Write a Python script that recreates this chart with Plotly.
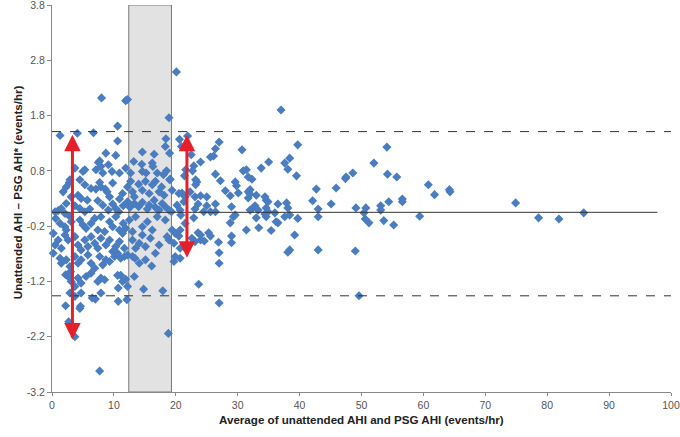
import plotly.graph_objects as go

# ---- data ----
# (average AHI, difference) pairs, grouped by x region
pts_low = [
    (8.0,2.12),(11.9,2.07),(12.2,2.09),(10.6,1.61),(1.3,1.44),(4.1,1.48),(6.7,1.49),(10.6,1.34),
    (8.7,1.12),(10.3,1.08),
    (3.7,0.85),(7.5,0.95),(7.7,0.98),(7.9,0.88),(7.1,0.82),(9.1,0.91),(11.9,0.85),(2.9,0.64),(4.5,0.64),
    (5.0,0.79),(5.3,0.82),(8.2,0.76),(9.7,0.79),(10.9,0.76),
    (1.8,0.42),(2.3,0.51),(2.8,0.59),(3.1,0.33),(4.2,0.36),(4.7,0.30),(5.3,0.55),(5.7,0.27),(6.3,0.48),
    (7.1,0.47),(7.7,0.59),(7.9,0.51),(8.6,0.47),(8.9,0.42),(9.3,0.33),(9.8,0.58),(10.9,0.29),(11.4,0.39),(12.2,0.51),
    (0.5,0.06),(1.0,0.08),(1.5,0.12),(2.3,0.21),(2.1,0.03),(3.7,0.17),(4.5,0.12),(5.3,0.06),(6.1,0.11),
    (7.4,0.26),(8.2,0.18),(9.1,0.09),(9.8,0.20),(10.3,0.12),(10.8,0.06),(11.5,0.17),(12.2,0.24),
    (0.2,-0.33),(0.6,-0.06),(1.3,-0.15),(2.1,-0.21),(2.3,-0.27),(2.9,-0.03),(3.1,-0.12),(4.5,-0.09),
    (5.0,-0.18),(5.5,-0.24),(6.3,-0.15),(6.9,-0.06),(7.4,-0.27),(7.9,-0.03),(8.5,-0.30),(9.3,-0.12),
    (9.8,-0.21),(10.3,-0.03),(10.9,-0.27),(11.5,-0.15),(11.9,-0.24),
    (0.2,-0.69),(0.5,-0.54),(1.0,-0.45),(1.5,-0.60),(2.1,-0.36),(2.6,-0.45),(3.7,-0.39),(4.2,-0.54),
    (4.7,-0.63),(5.3,-0.45),(5.8,-0.57),(6.3,-0.39),(6.9,-0.51),(7.4,-0.60),(7.9,-0.42),(8.7,-0.54),
    (9.3,-0.45),(9.8,-0.66),(10.3,-0.57),(10.9,-0.48),(11.4,-0.33),(11.7,-0.60),
    (1.3,-0.78),(1.5,-0.87),(2.3,-0.81),(2.9,-0.93),(3.0,-1.02),(3.7,-0.75),(4.2,-0.87),(4.7,-0.81),
    (5.8,-0.72),(6.3,-0.87),(6.9,-0.96),(7.7,-0.75),(8.2,-0.90),(8.7,-0.81),(9.3,-0.84),(10.1,-0.75),
    (10.6,-0.69),(11.1,-0.78),(11.7,-0.75),(12.2,-0.72),
    (2.2,-1.08),(2.6,-1.11),(3.1,-1.20),(3.7,-1.29),(4.2,-1.14),(4.7,-1.23),(5.5,-1.11),(6.3,-1.05),
    (7.4,-1.20),(7.9,-1.14),(8.5,-1.17),(10.6,-1.09),(11.1,-1.09),(11.4,-1.20),(11.9,-1.16),(10.7,-1.32),(12.2,-1.29),
    (2.9,-1.41),(3.7,-1.47),(4.7,-1.41),(6.5,-1.50),(7.0,-1.52),(7.9,-1.41),(10.7,-1.56),(12.1,-1.53),
    (2.2,-1.64),(4.5,-1.69),(4.6,-1.65),(2.7,-1.93),(3.7,-2.20),(7.7,-2.82),
]
pts_band = [
    (18.9,1.76),(18.4,1.38),(14.6,1.14),(16.5,1.10),(18.3,1.24),(19.0,1.12),
    (13.2,0.97),(14.5,0.92),(15.2,0.76),(16.2,0.94),(16.3,0.88),(17.0,0.76),(18.0,0.73),(19.1,0.65),
    (18.5,0.80),(12.7,0.76),(14.6,0.79),
    (12.7,0.61),(13.0,0.42),(13.3,0.33),(14.0,0.56),(14.6,0.45),(15.1,0.61),(15.7,0.39),(16.2,0.55),
    (16.7,0.61),(17.3,0.42),(17.7,0.51),(18.1,0.36),(19.0,0.64),
    (12.6,0.14),(13.3,0.21),(14.0,0.15),(14.6,0.23),(15.4,0.11),(15.7,0.18),(16.5,0.27),(16.7,0.14),
    (17.3,0.09),(17.8,0.21),(18.3,0.15),(18.9,0.09),(19.3,0.06),
    (12.5,-0.09),(13.0,-0.30),(13.5,-0.03),(14.6,-0.21),(15.4,-0.12),(16.2,-0.27),(17.0,-0.03),
    (18.3,-0.09),(19.4,-0.27),
    (13.0,-0.45),(13.5,-0.60),(14.1,-0.51),(14.6,-0.36),(15.1,-0.57),(15.9,-0.42),(17.3,-0.54),
    (18.6,-0.39),(18.9,-0.45),
    (13.0,-0.75),(13.4,-0.78),(14.1,-0.87),(15.1,-0.81),(16.1,-0.92),(16.7,-0.69),
    (13.3,-1.11),(14.8,-1.34),(17.9,-1.37),(18.8,-2.14),
]
pts_mid = [
    (20.1,2.59),(19.7,-0.51),(19.9,-0.33),(19.7,-0.84),(19.9,-0.75),(19.4,0.45),(20.5,0.39),(20.2,0.18),
    (21.9,1.43),(20.6,1.37),(20.9,1.24),(22.5,1.09),(21.4,0.71),(22.9,0.89),(21.0,0.40),(21.5,0.33),
    (22.3,0.42),(23.1,0.33),(20.7,0.09),(21.3,0.24),(23.1,0.11),(23.6,0.20),(20.7,-0.27),(21.5,-0.15),
    (23.6,-0.32),(20.7,-0.60),(21.3,-0.57),(22.6,-0.42),(23.1,-0.48),(20.7,-0.78),(23.7,-1.25),
    (37.0,1.90),(27.0,1.32),(26.4,1.20),(30.7,1.18),(39.7,1.27),(26.1,1.07),(25.6,1.05),(24.0,0.96),
    (22.7,0.80),(35.0,0.96),(37.6,0.94),(38.4,1.03),(33.8,0.85),(30.9,0.80),(31.4,0.82),(38.1,0.83),
    (21.6,0.82),(26.4,0.74),(31.7,0.69),(32.3,0.65),(39.5,0.71),(23.2,0.64),(23.4,0.60),(23.2,0.55),
    (27.2,0.62),(29.6,0.60),(29.8,0.53),(32.0,0.46),(31.7,0.42),(32.0,0.38),(28.0,0.44),(30.1,0.40),
    (24.0,0.35),(25.0,0.33),(28.8,0.35),(34.4,0.33),(34.6,0.27),(34.9,0.24),(33.0,0.36),(31.7,0.31),
    (26.4,0.20),(25.0,0.17),(29.0,0.15),(36.5,0.20),(37.9,0.22),(32.8,0.17),(32.5,0.13),(32.0,0.09),
    (33.3,0.09),(34.6,0.13),(34.9,0.06),(24.5,0.06),(25.6,0.06),(26.4,0.06),(29.6,0.0),(29.3,-0.03),
    (22.9,-0.05),(28.8,-0.14),(33.0,-0.05),(34.6,-0.03),(36.0,0.04),(37.6,-0.03),(39.7,-0.06),
    (38.1,0.13),(36.5,-0.14),(20.8,0.0),
    (20.5,-0.38),(24.0,-0.36),(24.0,-0.45),(24.6,-0.47),(25.3,-0.32),(25.6,-0.38),(26.9,-0.49),
    (29.0,-0.38),(29.0,-0.50),(27.0,-0.68),(27.0,-0.87),(27.0,-1.59),(31.4,-0.27),(33.4,-0.23),
    (35.4,-0.28),(36.2,-0.12),(38.4,0.0),(39.2,-0.36),(38.1,-0.67),(38.4,-0.63),(34.4,0.02),
]
pts_high = [
    (54.1,1.23),(52.0,0.94),(48.6,0.76),(47.5,0.69),(47.4,0.66),(54.2,0.74),(55.7,0.69),(42.7,0.47),
    (45.9,0.49),(42.1,0.26),(45.1,0.20),(43.0,0.11),(43.0,-0.03),(49.1,0.13),(50.7,0.13),(50.4,0.04),
    (50.6,-0.07),(51.2,-0.14),(53.1,0.17),(53.1,0.09),(53.6,-0.10),(54.4,0.24),(55.2,-0.18),
    (43.0,-0.63),(49.0,-0.65),(49.6,-1.46),(60.8,0.55),(61.8,0.37),(64.2,0.46),(64.3,0.42),
    (56.6,0.29),(56.6,0.24),(59.4,-0.02),(74.9,0.22),(78.6,-0.05),(81.9,-0.07),(85.9,0.04),
]

mean_diff = 0.05
upper_loa = 1.51
lower_loa = -1.46
band_range = (12.4, 19.3)
arrow1 = dict(x=3.3, top=1.48, bottom=-2.25)
arrow2 = dict(x=21.8, top=1.48, bottom=-0.77)
x_ticks = list(range(0, 101, 10))
y_ticks = [-3.2, -2.2, -1.2, -0.2, 0.8, 1.8, 2.8, 3.8]
y_tick_text = ["-3.2", "-2.2", "-1.2", "-0.2", "0.8", "1.8", "2.8", "3.8"]

all_pts = pts_low + pts_band + pts_mid + pts_high
avg_ahi = [p[0] for p in all_pts]
diff_ahi = [p[1] for p in all_pts]

FONT = "Liberation Sans Narrow, Arial Narrow, Liberation Sans, Arial, sans-serif"

fig = go.Figure()
fig.add_trace(go.Scatter(
    x=avg_ahi, y=diff_ahi, mode="markers",
    marker=dict(symbol="diamond", size=7, color="#4a7cc0", line=dict(width=0)),
    showlegend=False, hoverinfo="skip", cliponaxis=False))

shapes = [
    dict(type="rect", xref="x", yref="y", x0=band_range[0], x1=band_range[1], y0=-3.2, y1=3.8,
         fillcolor="#e2e2e2", line=dict(color="#7a7a7a", width=1), layer="below"),
    dict(type="line", xref="x", yref="y", x0=0, x1=97.8, y0=mean_diff, y1=mean_diff,
         line=dict(color="#333333", width=1)),
    dict(type="line", xref="x", yref="y", x0=0, x1=100, y0=upper_loa, y1=upper_loa,
         line=dict(color="#333333", width=1, dash="dash")),
    dict(type="line", xref="x", yref="y", x0=0, x1=100, y0=lower_loa, y1=lower_loa,
         line=dict(color="#333333", width=1, dash="dash")),
]

annotations = []
for a in (arrow1, arrow2):
    annotations.append(dict(
        x=a["x"], y=a["bottom"], ax=a["x"], ay=a["top"], xref="x", yref="y",
        axref="x", ayref="y", text="", showarrow=True, arrowhead=2, arrowside="end+start",
        arrowsize=1.1, arrowwidth=3, arrowcolor="#e5202a"))

annotations.append(dict(
    text="<b>Average of unattended AHI and PSG AHI (events/hr)</b>", xref="paper", yref="paper",
    x=0.5008, y=-0.072, xanchor="center", yanchor="middle", showarrow=False,
    font=dict(family=FONT, size=11.6, color="#222222")))
annotations.append(dict(
    text="<b>Unattended AHI – PSG AHI* (events/hr)</b>", xref="paper", yref="paper",
    x=-0.0544, y=0.517, xanchor="center", yanchor="middle", textangle=-90, showarrow=False,
    font=dict(family=FONT, size=11.6, color="#222222")))

fig.update_layout(
    width=680, height=437,
    margin=dict(l=52, r=9, t=5, b=45, autoexpand=False),
    paper_bgcolor="white", plot_bgcolor="white",
    shapes=shapes, annotations=annotations,
    font=dict(family=FONT, size=11, color="#555555"),
)
fig.update_xaxes(range=[0, 100], tickvals=x_ticks, showgrid=False, zeroline=False, automargin=False,
                 showline=True, linecolor="#888888", linewidth=1, ticks="outside",
                 ticklen=3, tickcolor="#888888", ticklabeloverflow="allow",
                 tickfont=dict(family=FONT, size=10.5, color="#555555"))
fig.update_yaxes(range=[-3.2, 3.8], tickvals=y_ticks, ticktext=y_tick_text, showgrid=False,
                 zeroline=False, showline=True, linecolor="#888888", linewidth=1, ticks="outside",
                 ticklen=4, tickcolor="#888888", automargin=False, ticklabeloverflow="allow",
                 tickfont=dict(family=FONT, size=10.5, color="#555555"))

fig.write_html("out.html", config={"displayModeBar": False},
               post_script="document.body.style.margin='0';document.body.style.padding='0';")
